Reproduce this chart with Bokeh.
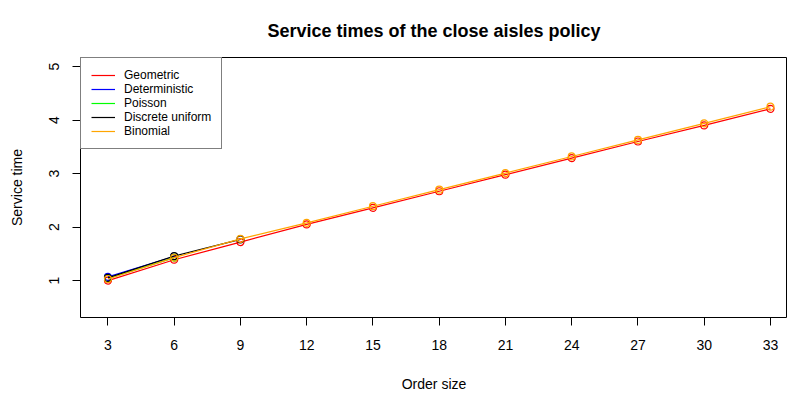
from bokeh.plotting import figure
from bokeh.models import Range1d, Legend, LegendItem, FixedTicker
from bokeh.embed import file_html
from bokeh.resources import INLINE

order_sizes = [3, 6, 9, 12, 15, 18, 21, 24, 27, 30, 33]
geometric = [1.00, 1.39, 1.72, 2.05, 2.36, 2.67, 2.98, 3.29, 3.60, 3.90, 4.21]
binomial = [1.03, 1.43, 1.78, 2.08, 2.39, 2.70, 3.01, 3.32, 3.63, 3.94, 4.25]
det_x = [3, 6]
deterministic = [1.07, 1.45]
poi_x = [3, 6]
poisson = [1.04, 1.43]
du_x = [3, 6, 9]
discrete_uniform = [1.05, 1.46, 1.77]
x_ticks = [3, 6, 9, 12, 15, 18, 21, 24, 27, 30, 33]
y_ticks = [1, 2, 3, 4, 5]

FONT = "Liberation Sans"

p = figure(width=787, height=394, output_backend="svg", toolbar_location=None,
           x_range=Range1d(1.755, 33.77), y_range=Range1d(0.31, 5.17),
           min_border_left=80, min_border_right=0, min_border_top=57, min_border_bottom=77)
p.title.text = "Service times of the close aisles policy"
p.title.text_font = FONT
p.title.text_font_size = "18px"
p.title.text_font_style = "bold"
p.title.text_color = "black"
p.title.align = "center"
p.title.standoff = 34
p.grid.visible = False
p.outline_line_color = "black"
p.outline_line_width = 1
p.background_fill_color = "white"
p.border_fill_color = "white"

for ax in (p.xaxis, p.yaxis):
    ax.axis_line_color = None
    ax.major_tick_line_color = "black"
    ax.major_tick_in = 0
    ax.major_tick_out = 8
    ax.minor_tick_line_color = None
    ax.major_label_text_font = FONT
    ax.major_label_text_font_size = "14px"
    ax.major_label_text_color = "black"
    ax.axis_label_text_font = FONT
    ax.axis_label_text_font_size = "14px"
    ax.axis_label_text_font_style = "normal"
    ax.axis_label_text_color = "black"

p.xaxis.ticker = FixedTicker(ticks=x_ticks)
p.yaxis.ticker = FixedTicker(ticks=y_ticks)
p.xaxis.axis_label = "Order size"
p.yaxis.axis_label = "Service time"
p.xaxis.major_label_standoff = 14
p.xaxis.axis_label_standoff = 23
p.yaxis.major_label_orientation = "vertical"
p.yaxis.major_label_standoff = 13
p.yaxis.axis_label_standoff = 22

series = [
    ("Geometric", order_sizes, geometric, "#FF0000"),
    ("Deterministic", det_x, deterministic, "#0000FF"),
    ("Poisson", poi_x, poisson, "#00FF00"),
    ("Discrete uniform", du_x, discrete_uniform, "#000000"),
    ("Binomial", order_sizes, binomial, "#FFA500"),
]

items = []
for name, xs, ys, col in series:
    r = p.line(xs, ys, line_color=col, line_width=1.2)
    p.scatter(xs, ys, marker="circle", size=7, fill_color=None, line_color=col, line_width=1.2)
    items.append(LegendItem(label=name, renderers=[r]))

legend = Legend(items=items, location="top_left", margin=0, padding=10,
                spacing=0, label_height=14, glyph_height=14, glyph_width=24,
                label_standoff=9, label_text_font=FONT, label_text_font_size="12px",
                label_text_color="black",
                border_line_color="black", border_line_width=1,
                background_fill_color="white", background_fill_alpha=1)
p.add_layout(legend, "center")

open("out.html", "w").write(file_html(p, INLINE))
